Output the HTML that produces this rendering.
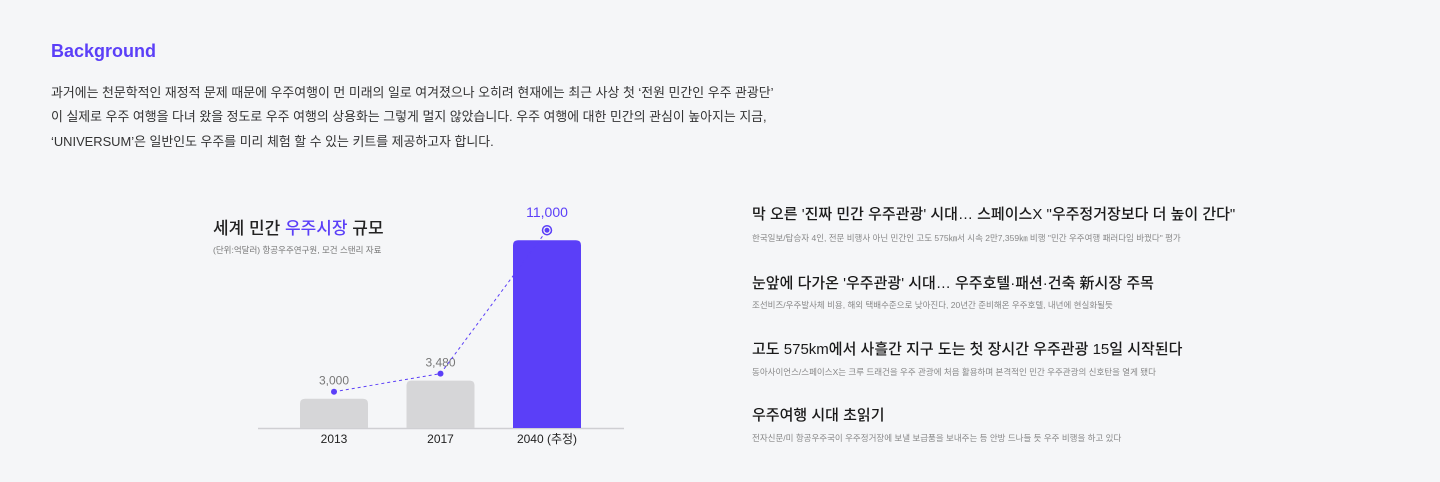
<!DOCTYPE html>
<html><head><meta charset="utf-8"><style>
*{margin:0;padding:0;box-sizing:border-box}
body{width:1440px;height:482px;background:#f5f6f8;font-family:"Liberation Sans","Noto Sans CJK KR",sans-serif;position:relative;overflow:hidden;color:#222}
.abs{position:absolute;white-space:nowrap}
#bg-title{left:51px;top:41px;font-size:18px;font-weight:bold;color:#5b3ff8}
.p{left:51px;font-size:12.9px;color:#333}
.nt{left:752px;font-size:15px;color:#1a1a1a;font-weight:500}
.ns{left:752px;font-size:8.5px;color:#888}
</style></head><body>
<div class="abs" id="bg-title">Background</div>
<div class="abs p" style="top:82px">과거에는 천문학적인 재정적 문제 때문에 우주여행이 먼 미래의 일로 여겨졌으나 오히려 현재에는 최근 사상 첫 ‘전원 민간인 우주 관광단’</div>
<div class="abs p" style="top:106px">이 실제로 우주 여행을 다녀 왔을 정도로 우주 여행의 상용화는 그렇게 멀지 않았습니다. 우주 여행에 대한 민간의 관심이 높아지는 지금,</div>
<div class="abs p" style="top:131px">‘UNIVERSUM’은 일반인도 우주를 미리 체험 할 수 있는 키트를 제공하고자 합니다.</div>

<div class="abs" style="left:213px;top:214px;font-size:17px;color:#222;font-weight:500">세계 민간 <span style="color:#5b3ff8">우주시장</span> 규모</div>
<div class="abs" style="left:213px;top:244px;font-size:8.5px;color:#777">(단위:억달러) 항공우주연구원, 모건 스탠리 자료</div>

<svg class="abs" style="left:0;top:0" width="1440" height="482" id="chart"></svg>

<div class="abs nt" style="top:203px">막 오른 '진짜 민간 우주관광' 시대… 스페이스X "우주정거장보다 더 높이 간다"</div>
<div class="abs ns" style="top:232px">한국일보/탑승자 4인, 전문 비행사 아닌 민간인 고도 575㎞서 시속 2만7,359㎞ 비행 "민간 우주여행 패러다임 바꿨다" 평가</div>
<div class="abs nt" style="top:272px">눈앞에 다가온 '우주관광' 시대… 우주호텔·패션·건축 新시장 주목</div>
<div class="abs ns" style="top:299px">조선비즈/우주발사체 비용, 해외 택배수준으로 낮아진다, 20년간 준비해온 우주호텔, 내년에 현실화될듯</div>
<div class="abs nt" style="top:338px">고도 575km에서 사흘간 지구 도는 첫 장시간 우주관광 15일 시작된다</div>
<div class="abs ns" style="top:366px">동아사이언스/스페이스X는 크루 드래건을 우주 관광에 처음 활용하며 본격적인 민간 우주관광의 신호탄을 열게 됐다</div>
<div class="abs nt" style="top:404px">우주여행 시대 초읽기</div>
<div class="abs ns" style="top:432px">전자신문/미 항공우주국이 우주정거장에 보낼 보급품을 보내주는 등 안방 드나들 듯 우주 비행을 하고 있다</div>

<script>
const categories=["2013","2017","2040 (추정)"];
const values=[3000,3480,11000];
const valueLabels=["3,000","3,480","11,000"];
const NS="http://www.w3.org/2000/svg";
const svg=document.getElementById('chart');
const base=428, x0=300, step=106.5, bw=68;
const vmin=2360, k=122;
function yScale(v){return base-Math.log(v/vmin)*k;}
function xScale(i){return x0+i*step;}
function mk(t,a){const e=document.createElementNS(NS,t);for(const kk in a)e.setAttribute(kk,a[kk]);svg.appendChild(e);return e;}
const axis=mk('line',{x1:258,x2:624,y1:base+0.5,y2:base+0.5,stroke:'#cfcfd3','stroke-width':1.5});


const last=values.length-1;
const pts=values.map((v,i)=>[xScale(i)+bw/2,yScale(v)-(i===last?10:7)]);
values.forEach((v,i)=>{
  const y=yScale(v);
  const r=mk('path',{d:`M${xScale(i)},${base} V${y+5} Q${xScale(i)},${y} ${xScale(i)+5},${y} H${xScale(i)+bw-5} Q${xScale(i)+bw},${y} ${xScale(i)+bw},${y+5} V${base} Z`,fill:i===last?'#5b3ff8':'#d6d6d8'});
  
  
  const t=mk('text',{x:xScale(i)+bw/2,y:base+15,'text-anchor':'middle','font-size':12,fill:'#222','font-family':'Liberation Sans, Noto Sans CJK KR, sans-serif'});
  t.textContent=categories[i];
  
  
  const lb=mk('text',{x:pts[i][0],y:pts[i][1]-(i===last?13:7),'text-anchor':'middle','font-size':i===last?14:12,fill:i===last?'#5b3ff8':'#777','font-family':'Liberation Sans, sans-serif'});
  lb.textContent=valueLabels[i];
  
  
});
const line=mk('polyline',{points:pts.map(p=>p.join(',')).join(' '),fill:'none',stroke:'#5b3ff8','stroke-width':1,'stroke-dasharray':'3,3'});


pts.forEach((p,i)=>{
  if(i===last){
    const c=mk('circle',{cx:p[0],cy:p[1],r:4.5,fill:'#f5f6f8',stroke:'#5b3ff8','stroke-width':1.5});
    
    
  }
  const d=mk('circle',{cx:p[0],cy:p[1],r:i===last?2.5:3,fill:'#5b3ff8'});
  
  
});
</script>
</body></html>
